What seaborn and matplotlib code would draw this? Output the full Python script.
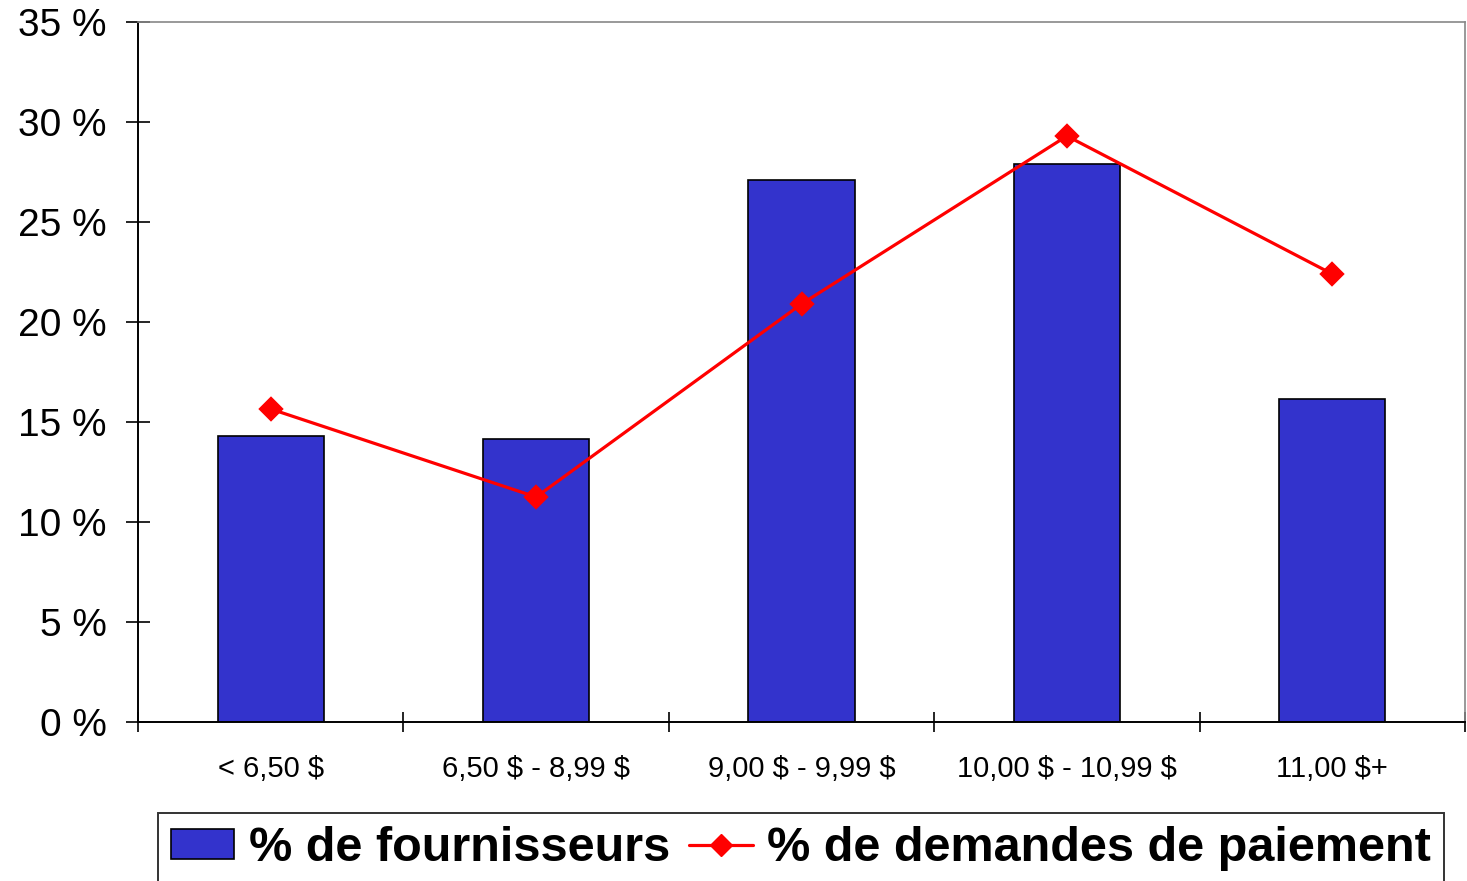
import numpy as np
import matplotlib
matplotlib.use("Agg")
import matplotlib.pyplot as plt
import seaborn as sns
from matplotlib.patches import Patch
from matplotlib.lines import Line2D

categories = [r"< 6,50 \$", r"6,50 \$ - 8,99 \$", r"9,00 \$ - 9,99 \$", r"10,00 \$ - 10,99 \$", r"11,00 \$+"]
pct_fournisseurs = [14.3, 14.15, 27.1, 27.9, 16.15]
pct_demandes = [15.65, 11.25, 20.9, 29.3, 22.4]
y_ticks = [0, 5, 10, 15, 20, 25, 30, 35]

BAR_COLOR = "#3333CC"
LINE_COLOR = "#FF0000"


def main():
    sns.set_style("white")
    plt.rcParams["font.family"] = ["Liberation Sans", "DejaVu Sans"]
    plt.rcParams["text.color"] = "black"
    plt.rcParams["xtick.color"] = "black"
    plt.rcParams["ytick.color"] = "black"

    fig = plt.figure(figsize=(14.67, 8.81), dpi=100)
    ax = fig.add_axes([138 / 1467, 1 - 722 / 881, (1465 - 138) / 1467, 700 / 881])

    sns.barplot(x=categories, y=pct_fournisseurs, color=BAR_COLOR, width=0.4,
                edgecolor="black", linewidth=1.2, saturation=1, ax=ax)
    sns.pointplot(x=categories, y=pct_demandes, color=LINE_COLOR, markers="D",
                  markersize=11, linewidth=2.3, ax=ax)

    ax.set_xlim(-0.5, 4.5)
    ax.set_ylim(0, 35)
    ax.set_yticks(y_ticks)
    ax.set_yticklabels([f"{t} %" for t in y_ticks], fontsize=28)
    ax.set_xticks(range(len(categories)))
    ax.set_xticklabels(categories, fontsize=21)
    ax.set_xticks(np.arange(-0.5, len(categories), 1.0), minor=True)
    ax.tick_params(axis="x", which="major", length=0, pad=24, bottom=True)
    ax.tick_params(axis="x", which="minor", direction="inout", length=14, width=1.2,
                   color="black", bottom=True)
    ax.tick_params(axis="y", direction="inout", length=17, width=1.2, color="black",
                   pad=14, left=True)
    ax.set_xlabel("")
    ax.set_ylabel("")

    for side in ["left", "bottom"]:
        ax.spines[side].set_color("black")
        ax.spines[side].set_linewidth(1.4)
    for side in ["top", "right"]:
        ax.spines[side].set_color("#888888")
        ax.spines[side].set_linewidth(1.2)

    handles = [
        Patch(facecolor=BAR_COLOR, edgecolor="black", linewidth=1.2, label="% de fournisseurs"),
        Line2D([0], [0], color=LINE_COLOR, marker="D", markersize=11, linewidth=2.3,
               label="% de demandes de paiement"),
    ]
    leg = fig.legend(handles=handles, loc="upper center", bbox_to_anchor=(801 / 1467, 1 - 813 / 881),
                     ncol=2, frameon=True, fancybox=False, edgecolor="black",
                     prop={"weight": "bold", "size": 35}, handlelength=1.3,
                     handleheight=0.6, handletextpad=0.3, columnspacing=0.4,
                     borderpad=0.27, borderaxespad=0)
    leg.get_frame().set_linewidth(1.4)

    fig.savefig("out.png", dpi=100)
    plt.close(fig)


if __name__ == "__main__":
    main()
